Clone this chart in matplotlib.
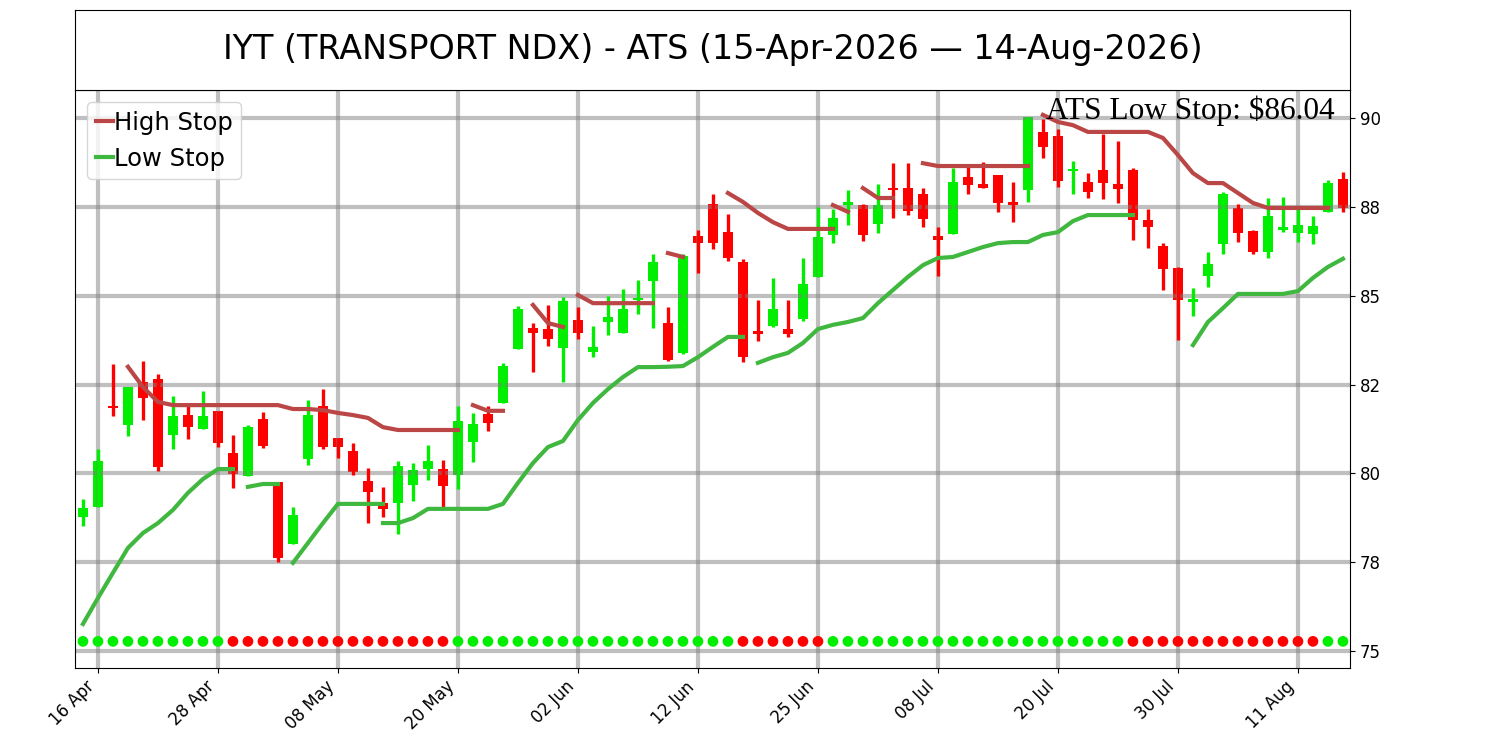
import numpy as np
import matplotlib
matplotlib.use('Agg')
import matplotlib.pyplot as plt

# daily candles, 15-Apr-2026 .. 14-Aug-2026 (trading days)
opens = [78.77, 79.05, 81.90, 81.36, 82.57, 82.66, 81.08, 81.64, 81.25, 81.75,
         80.57, 79.93, 81.53, 79.76, 78.01, 80.40, 81.90, 81.00, 80.63, 79.78,
         79.17, 79.17, 79.67, 80.12, 80.12, 79.95, 80.88, 81.67, 81.98, 83.50,
         84.09, 84.06, 83.53, 84.32, 83.42, 84.26, 83.95, 84.88, 85.41, 84.23,
         83.39, 86.68, 87.58, 86.79, 85.95, 84.01, 84.15, 84.06, 84.34, 85.53,
         86.71, 87.55, 87.55, 87.02, 88.03, 88.03, 87.86, 86.68, 86.74, 88.34,
         88.14, 88.40, 87.64, 87.97, 89.61, 89.49, 88.51, 88.20, 88.54, 88.14,
         88.54, 87.13, 86.40, 85.78, 84.82, 85.55, 86.46, 87.47, 86.82, 86.23,
         86.85, 86.76, 86.74, 87.36, 88.28]
highs = [79.28, 80.69, 83.08, 82.43, 83.16, 82.80, 82.18, 81.90, 82.32, 81.75,
         81.08, 81.36, 81.73, 79.76, 79.05, 82.06, 82.37, 81.00, 80.85, 80.15,
         79.62, 80.35, 80.29, 80.80, 80.38, 81.90, 81.70, 81.90, 83.11, 84.71,
         84.23, 84.74, 84.96, 84.68, 84.15, 84.99, 85.19, 85.44, 86.17, 84.68,
         86.17, 86.85, 87.86, 87.30, 86.03, 84.88, 85.50, 84.88, 86.06, 87.50,
         87.44, 87.97, 87.58, 88.14, 88.73, 88.73, 88.03, 86.93, 88.59, 88.71,
         88.76, 88.40, 88.20, 90.03, 89.97, 89.69, 88.79, 88.45, 89.55, 89.35,
         88.59, 87.44, 86.48, 85.81, 85.22, 86.23, 87.92, 87.58, 86.85, 87.75,
         87.78, 87.47, 87.24, 88.26, 88.48]
lows = [78.52, 79.05, 81.61, 81.05, 81.50, 80.07, 80.69, 80.97, 81.25, 80.74,
        79.59, 79.93, 80.71, 77.50, 78.01, 80.24, 80.69, 80.43, 79.95, 78.60,
        78.77, 78.29, 79.22, 79.81, 79.02, 79.56, 80.32, 81.19, 81.98, 83.50,
        82.85, 83.58, 82.57, 83.78, 83.27, 83.89, 83.95, 84.49, 84.09, 83.16,
        83.36, 85.64, 86.31, 85.98, 83.13, 83.73, 84.12, 83.84, 84.29, 85.53,
        86.48, 86.99, 86.54, 86.76, 87.19, 87.27, 86.93, 85.55, 86.74, 87.86,
        88.03, 87.36, 87.07, 87.64, 88.88, 88.06, 87.86, 87.75, 87.72, 87.61,
        86.57, 86.34, 85.16, 83.75, 84.43, 85.24, 86.17, 86.51, 86.17, 86.06,
        86.79, 86.51, 86.46, 87.36, 87.36]
closes = [79.02, 80.35, 81.85, 82.43, 82.12, 80.18, 81.61, 81.30, 81.61, 80.85,
          79.98, 81.30, 80.77, 77.62, 78.83, 81.64, 80.74, 80.74, 80.04, 79.47,
          79.00, 80.21, 80.09, 80.35, 79.64, 81.47, 81.39, 81.42, 83.02, 84.63,
          83.95, 83.78, 84.85, 83.95, 83.56, 84.40, 84.63, 84.92, 85.95, 83.19,
          86.12, 86.48, 86.48, 86.06, 83.27, 83.92, 84.63, 83.92, 85.33, 86.65,
          87.19, 87.64, 86.71, 87.55, 87.97, 87.38, 87.16, 86.57, 88.20, 88.12,
          88.03, 87.61, 87.55, 90.03, 89.19, 88.23, 88.57, 87.92, 88.17, 88.00,
          87.13, 86.93, 85.75, 84.88, 84.91, 85.89, 87.86, 86.76, 86.23, 87.24,
          86.93, 86.99, 86.96, 88.17, 87.47]

# stop lines: (first day index, values)
high_stop_segments = [
    (3, [83.00, 82.43, 82.01, 81.92, 81.92, 81.92, 81.92, 81.92, 81.92, 81.92,
         81.92, 81.81, 81.81, 81.78, 81.70, 81.64, 81.56, 81.30, 81.22, 81.22,
         81.22, 81.22, 81.22]),
    (26, [81.92, 81.76, 81.76]),
    (30, [84.74, 84.23, 84.12]),
    (33, [85.02, 84.79, 84.79, 84.79, 84.79, 84.79]),
    (39, [86.20, 86.09]),
    (43, [87.89, 87.64, 87.33, 87.07, 86.88, 86.88, 86.88, 86.88]),
    (50, [87.55, 87.36]),
    (52, [88.03, 87.75, 87.75]),
    (56, [88.73, 88.65, 88.65, 88.65, 88.65, 88.65, 88.65, 88.65]),
    (64, [90.09, 89.89, 89.80, 89.61, 89.61, 89.61, 89.61, 89.61, 89.44, 88.96,
          88.45, 88.17, 88.17, 87.89, 87.61, 87.47, 87.47, 87.47, 87.47, 87.47]),
]
low_stop_segments = [
    (0, [75.76, 76.49, 77.20, 77.90, 78.32, 78.60, 78.97, 79.45, 79.84, 80.12, 80.12]),
    (11, [79.62, 79.70, 79.70]),
    (14, [77.48, 78.04, 78.60, 79.14, 79.14, 79.14, 79.14]),
    (20, [78.60, 78.60, 78.74, 79.00, 79.00, 79.00, 79.00, 79.00, 79.14, 79.73,
          80.29, 80.74, 80.91, 81.50, 81.98, 82.37, 82.71, 82.99, 82.99, 83.00,
          83.02, 83.27, 83.56, 83.84, 83.84]),
    (45, [83.11, 83.27, 83.39, 83.67, 84.06, 84.18, 84.26, 84.37, 84.79, 85.16,
          85.53, 85.86, 86.06, 86.09, 86.23, 86.37, 86.48, 86.51, 86.51, 86.71,
          86.79, 87.10, 87.27, 87.27, 87.27, 87.27]),
    (74, [83.61, 84.26, 84.65, 85.05, 85.05, 85.05, 85.05, 85.13, 85.50, 85.81, 86.04]),
]

# trend signal runs: (number of days, +1 long / -1 short)
signal_runs = [(10, 1), (15, -1), (19, 1), (6, -1), (20, 1), (13, -1), (2, 1)]

tick_labels = ['16 Apr', '28 Apr', '08 May', '20 May', '02 Jun', '12 Jun',
               '25 Jun', '08 Jul', '20 Jul', '30 Jul', '11 Aug']
title = 'IYT (TRANSPORT NDX) - ATS (15-Apr-2026 \u2014 14-Aug-2026)'
last_stop_text = 'ATS Low Stop: $86.04'

GREEN = '#00ee00'
RED = '#ff0000'

fig = plt.figure(figsize=(15, 7.5), dpi=100)
ax = fig.add_axes([0.05, 0.1093, 0.85, 0.7707])
tax = fig.add_axes([0.05, 0.88, 0.85, 0.1067])
tax.set_xticks([]), tax.set_yticks([])
tax.text(0.5, 0.5, title, ha='center', va='center', fontsize=24)

o = np.array(opens)
c = np.array(closes)
x = np.arange(len(o))
up = c >= o
cols = np.where(up, GREEN, RED)

ax.vlines(x, lows, highs, colors=cols, linewidth=2.4)
ax.bar(x, np.maximum(np.abs(c - o), 0.05), bottom=np.minimum(o, c),
       width=0.7, color=cols)

for k, (start, vals) in enumerate(high_stop_segments):
    ax.plot(np.arange(start, start + len(vals)), vals, color='#bb4646', lw=3,
            label='High Stop' if k == 0 else None)
for k, (start, vals) in enumerate(low_stop_segments):
    ax.plot(np.arange(start, start + len(vals)), vals, color='#40b840', lw=3,
            label='Low Stop' if k == 0 else None)

sig = np.concatenate([np.full(n, s) for n, s in signal_runs])
ax.scatter(x, np.full(len(x), 75.27), c=np.where(sig > 0, GREEN, RED), s=45,
           zorder=3)

ax.set_xlim(-0.53, 84.47)
ax.set_ylim(74.52, 90.79)
ax.set_xticks(np.arange(1, len(x), 8))
ax.set_xticklabels(tick_labels, rotation=45, ha='right', fontsize=12)
yt = np.arange(75, 90.1, 2.5)
ax.set_yticks(yt)
ax.set_yticklabels(['{:.0f}'.format(v) for v in yt], fontsize=12)
ax.yaxis.tick_right()
ax.grid(True, color='gray', alpha=0.5, linewidth=3)

ax.legend(loc='upper left', fontsize=17.5, handlelength=0.7, handletextpad=0.05,
          borderpad=0.35, labelspacing=0.5, borderaxespad=0.5)
ax.text(0.988, 0.99, last_stop_text, transform=ax.transAxes, ha='right',
        va='top', fontsize=22.5, family='Liberation Serif')

fig.savefig('out.png')
